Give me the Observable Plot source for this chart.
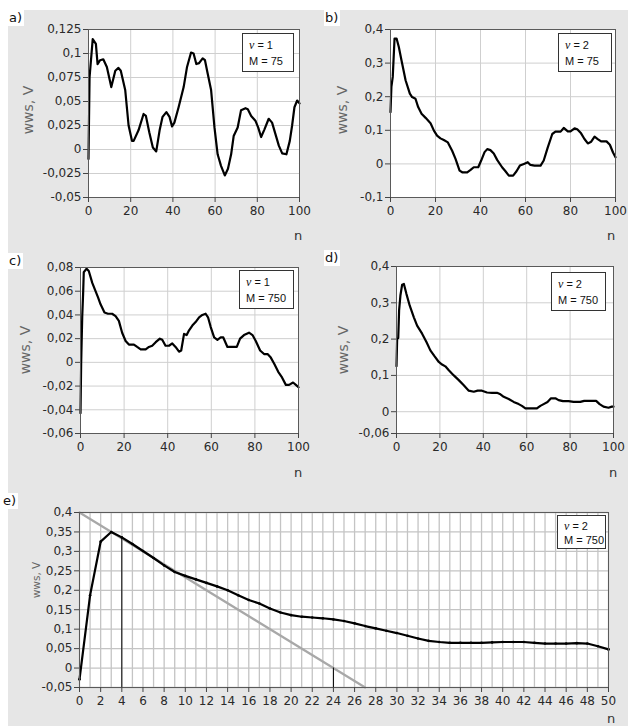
<!DOCTYPE html>
<html>
<head>
<meta charset="utf-8">
<script src="https://cdn.jsdelivr.net/npm/d3@7"></script>
<script src="https://cdn.jsdelivr.net/npm/@observablehq/plot@0.6"></script>
<style>
  html, body { margin: 0; padding: 0; background: #fff; }
  #root { position: relative; width: 628px; height: 726px; overflow: hidden; font-family: "DejaVu Sans", sans-serif; }
  .bg { position: absolute; left: 8px; top: 10px; width: 620px; height: 716px; background: #e6e6e6; }
  .pl { position: absolute; }
  .tag { position: absolute; background: #fff; font-size: 13px; line-height: 15px; padding: 0 2px 1px 1px; color: #111; }
  .ylab { position: absolute; color: #666; transform: translate(-50%, -50%) rotate(-90deg); white-space: nowrap; }
  .nlab { position: absolute; font-size: 13px; color: #333; transform: translate(-50%, -50%); }
  .leg { position: absolute; background: #fff; border: 1px solid #333; box-sizing: border-box; font-family: "Liberation Sans", Arial, sans-serif; font-size: 11px; color: #111; padding: 3px 0 0 6px; line-height: 17px; }
  .leg i { font-family: "Liberation Serif", serif; font-size: 12px; }
</style>
</head>
<body>
<div id="root"><div class="bg"></div></div>
<script>
// ---- data ----
const aN = [0,0.5,2,3.5,4.3,5.5,7,8.7,10.8,12.7,14.2,15.3,17.4,19,20.6,21.4,23.7,26.1,27.2,28.8,30.5,32.1,33.7,35.1,36.9,38.4,39.6,40.7,42.7,45.1,46.7,48.6,49.8,51.1,52.4,54.1,55.2,56.5,58.1,59.7,61.2,62.8,64.6,66.1,67.6,68.8,70.7,72.3,74.4,75.5,77.1,79.1,80.4,81.8,83.4,85.4,87,88.6,90.2,91.8,93.8,95.4,96.5,97.6,98.9,100];
const aV = [-0.01,0.075,0.115,0.11,0.089,0.093,0.094,0.086,0.065,0.082,0.085,0.082,0.062,0.025,0.009,0.009,0.02,0.037,0.035,0.018,0.002,-0.002,0.02,0.034,0.039,0.034,0.024,0.028,0.044,0.065,0.086,0.101,0.1,0.089,0.09,0.095,0.093,0.079,0.062,0.023,-0.005,-0.017,-0.027,-0.02,-0.005,0.014,0.023,0.041,0.043,0.042,0.035,0.03,0.023,0.013,0.021,0.032,0.028,0.016,0.004,-0.004,-0.005,0.009,0.025,0.044,0.051,0.048];

const bN = [0,0.4,1,1.8,2.7,3.7,4.9,6.7,8.6,9.6,11.1,12.3,13.8,15.6,17.8,19.3,20.7,22.2,23.7,25.5,27.4,28.9,30.7,31.9,34.1,35.6,37,39,40.3,41.8,43,44.4,45.9,47.4,49.6,51.1,52.6,54.5,56,57.5,59.3,61,62.2,64,66.7,68.1,69.9,71.9,73.3,75.6,77,78.8,80,81.8,83,84.7,86.2,87.7,89.2,90.7,92.1,93.6,96,97.5,98.9,100];
const bV = [0.154,0.229,0.259,0.373,0.373,0.348,0.308,0.249,0.209,0.199,0.194,0.169,0.149,0.137,0.121,0.099,0.084,0.076,0.071,0.064,0.039,0.015,-0.02,-0.025,-0.025,-0.018,-0.01,-0.01,0.01,0.035,0.044,0.041,0.031,0.012,-0.01,-0.022,-0.035,-0.035,-0.022,-0.005,0,0.005,-0.003,-0.005,-0.005,0.01,0.049,0.089,0.096,0.096,0.107,0.097,0.097,0.106,0.103,0.091,0.074,0.061,0.066,0.081,0.074,0.067,0.067,0.057,0.034,0.02];

const cN = [0,0.3,0.8,1.2,1.5,2.8,3.8,5.4,6.9,8,9.2,11,12.6,14.5,16.1,17.6,19.1,20.7,22.2,24.5,26,27.6,29.9,31.4,32.9,34.5,36.4,37.5,39,40.6,42.1,43.6,45.2,46.2,47.5,48.7,49.8,51.3,52.8,54.4,55.9,57.4,58.5,59.7,61.3,62.8,64.3,65.5,67.4,69.7,71.7,73.2,75,77.3,78.9,80.4,82.4,84.2,85.8,87.3,88.8,90.7,92.2,94.2,95.7,97.5,98.8,100];
const cV = [-0.043,-0.001,0.039,0.058,0.076,0.079,0.077,0.067,0.06,0.055,0.049,0.042,0.041,0.041,0.039,0.035,0.025,0.018,0.015,0.015,0.013,0.011,0.011,0.013,0.014,0.017,0.02,0.019,0.014,0.014,0.016,0.013,0.009,0.01,0.024,0.023,0.027,0.031,0.034,0.038,0.04,0.041,0.038,0.03,0.021,0.019,0.021,0.021,0.013,0.013,0.013,0.02,0.023,0.025,0.023,0.018,0.01,0.007,0.007,0.004,-0.001,-0.008,-0.012,-0.019,-0.019,-0.017,-0.019,-0.021];

const dN = [0,0.3,0.8,1.2,1.8,2.6,3.4,4.6,6.1,8,9.5,11.8,13.8,15.6,17.5,19.5,21,22.5,24.1,26.4,28.7,31,33.3,35.6,37.4,39.4,41.7,44,46.3,47.9,49.4,51.7,54,56.3,57.8,59.4,61.7,64.7,66.3,67.8,69.6,71.2,73.2,74.7,76.7,79.3,81.6,84.7,86.5,89.3,92,93.6,95.4,97.7,99.2,100];
const dV = [0.125,0.201,0.203,0.279,0.32,0.35,0.352,0.324,0.292,0.26,0.237,0.215,0.192,0.169,0.153,0.137,0.13,0.125,0.114,0.1,0.087,0.073,0.058,0.055,0.058,0.058,0.053,0.052,0.052,0.048,0.041,0.035,0.027,0.021,0.016,0.009,0.009,0.009,0.016,0.021,0.027,0.037,0.037,0.032,0.029,0.029,0.027,0.027,0.03,0.03,0.03,0.021,0.014,0.011,0.014,0.014];

const eN = d3.range(0, 51);
const eV = [-0.029,0.187,0.325,0.35,0.336,0.319,0.301,0.283,0.264,0.247,0.237,0.228,0.219,0.21,0.2,0.187,0.175,0.166,0.153,0.143,0.136,0.132,0.13,0.128,0.125,0.121,0.115,0.108,0.102,0.096,0.09,0.083,0.076,0.07,0.067,0.065,0.065,0.065,0.065,0.066,0.067,0.067,0.067,0.065,0.063,0.063,0.063,0.064,0.063,0.056,0.048];
const tangentN = [0, 27];
const tangentV = [0.4, -0.05];
const markN = [4, 24];
const markV = [0.336, 0];

const ticksA = [-0.05,-0.025,0,0.025,0.05,0.075,0.1,0.125];
const ticksB = [-0.1,0,0.1,0.2,0.3,0.4];
const ticksC = [-0.06,-0.04,-0.02,0,0.02,0.04,0.06,0.08];
const ticksD = [-0.06,0,0.1,0.2,0.3,0.4];
const ticksE = [-0.05,0,0.05,0.1,0.15,0.2,0.25,0.3,0.35,0.4];
const ticksN100 = [0,20,40,60,80,100];
const ticksN50 = d3.range(0, 51, 2);
const gridN50 = d3.range(0, 51, 1);

const legends = [["1","75"],["2","75"],["1","750"],["2","750"],["2","750"]];
const tags = ["a)","b)","c)","d)","e)"];

// ---- drawing ----
const root = document.getElementById("root");
const fmt = d => Math.abs(d) < 1e-9 ? "0" : String(+d.toFixed(4)).replace(".", ",");

function panel(cfg) {
  const data = cfg.N.map((n, i) => ({n, v: cfg.V[i]}));
  const marks = [
    Plot.frame({fill: "white", stroke: null}),
    Plot.ruleX(cfg.xGrid, {stroke: cfg.gridColor || "#cfcfcf", strokeWidth: cfg.gridWidth || 1}),
    Plot.ruleY(cfg.yTicks, {stroke: cfg.gridColor || "#cfcfcf", strokeWidth: cfg.gridWidth || 1}),
    ...(cfg.extra || []),
    Plot.line(data, {x: "n", y: "v", stroke: "#000", strokeWidth: 2.2, curve: "linear"}),
    ...(cfg.extraTop || []),
    Plot.frame({stroke: "#5a5a5a", strokeWidth: 1}),
    Plot.axisX({ticks: cfg.xTicks, tickSize: 5, tickPadding: 4, tickFormat: d => String(d), label: null, stroke: "#444"}),
    Plot.axisY({ticks: cfg.yTicks, tickSize: 5, tickPadding: 2, tickFormat: fmt, label: null, stroke: "#444"})
  ];
  const p = Plot.plot({
    width: cfg.width, height: cfg.height,
    marginLeft: cfg.ml, marginRight: cfg.mr, marginTop: cfg.mt, marginBottom: cfg.mb,
    x: {domain: cfg.xDomain},
    y: {domain: cfg.yDomain},
    style: {background: "transparent", fontFamily: "DejaVu Sans, sans-serif", fontSize: "12px", color: "#2a2a2a", overflow: "visible"},
    marks
  });
  p.classList.add("pl");
  p.style.left = cfg.left + "px";
  p.style.top = cfg.top + "px";
  root.appendChild(p);
}

panel({left: 8, top: 10, width: 300, height: 235, ml: 80, mr: 9, mt: 19, mb: 48,
  N: aN, V: aV, xDomain: [0, 100], yDomain: [-0.05, 0.125], xTicks: ticksN100, xGrid: ticksN100, yTicks: ticksA});
panel({left: 318, top: 10, width: 310, height: 235, ml: 72, mr: 13, mt: 19, mb: 48,
  N: bN, V: bV, xDomain: [0, 100], yDomain: [-0.1, 0.4], xTicks: ticksN100, xGrid: ticksN100, yTicks: ticksB});
panel({left: 8, top: 245, width: 300, height: 245, ml: 72, mr: 10, mt: 22, mb: 57,
  N: cN, V: cV, xDomain: [0, 100], yDomain: [-0.06, 0.08], xTicks: ticksN100, xGrid: ticksN100, yTicks: ticksC});
panel({left: 318, top: 245, width: 310, height: 245, ml: 78, mr: 15, mt: 21, mb: 57,
  N: dN, V: dV, xDomain: [0, 100], yDomain: [-0.06, 0.4], xTicks: ticksN100, xGrid: ticksN100, yTicks: ticksD});

const tangent = tangentN.map((n, i) => ({n, v: tangentV[i]}));
const marksE = markN.map((n, i) => ({n, v: markV[i]}));
const eData = eN.map((n, i) => ({n, v: eV[i]}));
panel({left: 8, top: 490, width: 620, height: 236, ml: 71, mr: 20, mt: 22, mb: 39,
  N: eN, V: eV, xDomain: [0, 50], yDomain: [-0.05, 0.4], xTicks: ticksN50, xGrid: gridN50, yTicks: ticksE,
  gridColor: "#c4c4c4", gridWidth: 1.3,
  extra: [
    Plot.line(tangent, {x: "n", y: "v", stroke: "#a8a8a8", strokeWidth: 2.2}),
    Plot.ruleX(marksE, {x: "n", y1: -0.05, y2: "v", stroke: "#000", strokeWidth: 1})
  ],
  extraTop: [Plot.dot(eData, {x: "n", y: "v", r: 1.3, fill: "#000", stroke: null})]
});

// ---- labels ----
function add(cls, html, style) {
  const el = document.createElement("div");
  el.className = cls;
  el.innerHTML = html;
  Object.assign(el.style, style);
  root.appendChild(el);
  return el;
}
const tagPos = [[8,10],[324,10],[8,253],[324,250],[2,493]];
tags.forEach((t, i) => add("tag", t, {left: tagPos[i][0] + "px", top: tagPos[i][1] + "px"}));

const ylabPos = [[28,110,14],[342,110,14],[25,350,14],[343,350,14],[36,580,10.5]];
ylabPos.forEach(([x, y, s]) => add("ylab", "wws, V", {left: x + "px", top: y + "px", fontSize: s + "px"}));

const nPos = [[298,235],[611,235],[298,472],[613,472],[611,718]];
nPos.forEach(([x, y]) => add("nlab", "n", {left: x + "px", top: y + "px"}));

const legPos = [[242,33,52,39],[558,33,54,39],[239,270,55,39],[551,272,55,39],[557,515,49,34]];
legends.forEach(([v, m], i) => {
  const [x, y, w, h] = legPos[i];
  add("leg", `<i>ν</i> = ${v}<br>M = ${m}`, {left: x + "px", top: y + "px", width: w + "px", height: h + "px",
    lineHeight: (i === 4 ? 14 : 16) + "px"});
});
</script>
</body>
</html>
